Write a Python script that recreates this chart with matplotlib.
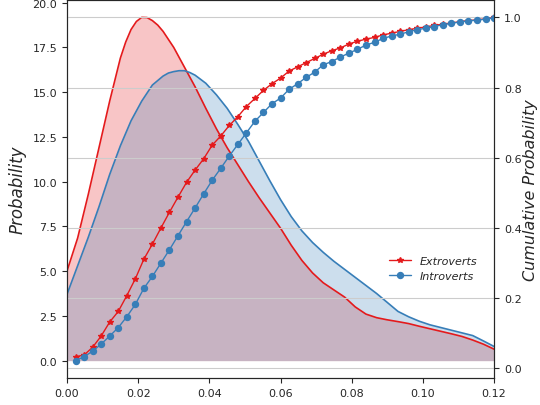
import numpy as np
import matplotlib.pyplot as plt
import seaborn as sns

sns.set_style("ticks")
plt.rcParams['font.family'] = ['DejaVu Sans']

red = '#e41a1c'
blue = '#377eb8'

# density curves
extro_x = [0.000, 0.003, 0.006, 0.009, 0.012, 0.015, 0.0165, 0.018, 0.0195, 0.021,
           0.0225, 0.024, 0.0255, 0.027, 0.030, 0.033, 0.036, 0.039, 0.042, 0.045,
           0.048, 0.051, 0.054, 0.057, 0.060, 0.063, 0.066, 0.069, 0.072, 0.075,
           0.078, 0.081, 0.084, 0.087, 0.090, 0.093, 0.096, 0.099, 0.102, 0.105,
           0.108, 0.111, 0.114, 0.117, 0.120]
extro_kde = [5.0, 6.85, 9.3, 11.9, 14.5, 16.9, 17.8, 18.5, 18.95, 19.18,
             19.17, 19.0, 18.75, 18.4, 17.5, 16.4, 15.3, 14.1, 12.95, 11.9,
             10.95, 10.0, 9.1, 8.25, 7.4, 6.45, 5.6, 4.9, 4.35, 3.95,
             3.55, 3.0, 2.6, 2.4, 2.28, 2.18, 2.07, 1.92, 1.78, 1.64,
             1.5, 1.35, 1.15, 0.92, 0.64]
intro_x = [0.000, 0.003, 0.006, 0.009, 0.012, 0.015, 0.018, 0.021, 0.024, 0.027,
           0.0285, 0.030, 0.0315, 0.033, 0.0345, 0.036, 0.039, 0.042, 0.045, 0.048,
           0.051, 0.054, 0.057, 0.060, 0.063, 0.066, 0.069, 0.072, 0.075, 0.078,
           0.081, 0.084, 0.087, 0.090, 0.093, 0.096, 0.099, 0.102, 0.105, 0.108,
           0.111, 0.114, 0.117, 0.120]
intro_kde = [3.7, 5.3, 6.9, 8.6, 10.4, 12.0, 13.4, 14.5, 15.4, 15.9,
             16.07, 16.15, 16.2, 16.2, 16.1, 15.95, 15.5, 14.85, 14.1, 13.2,
             12.25, 11.15, 10.05, 9.0, 8.05, 7.25, 6.6, 6.05, 5.55, 5.1,
             4.65, 4.2, 3.75, 3.25, 2.75, 2.45, 2.2, 2.0, 1.85, 1.7,
             1.55, 1.4, 1.1, 0.79]

# cumulative curves
cdf_x = np.arange(1, 51) * 0.0024
cdf_extro = [0.033, 0.038, 0.060, 0.092, 0.132, 0.162, 0.207, 0.255, 0.311, 0.354,
             0.400, 0.445, 0.488, 0.530, 0.565, 0.597, 0.636, 0.662, 0.692, 0.717,
             0.746, 0.769, 0.792, 0.811, 0.827, 0.847, 0.859, 0.871, 0.883, 0.895,
             0.905, 0.913, 0.924, 0.932, 0.938, 0.943, 0.950, 0.955, 0.960, 0.965,
             0.969, 0.973, 0.977, 0.981, 0.984, 0.988, 0.991, 0.993, 0.996, 1.000]
cdf_intro = [0.022, 0.033, 0.049, 0.069, 0.092, 0.116, 0.147, 0.182, 0.228, 0.262,
             0.300, 0.338, 0.378, 0.418, 0.457, 0.497, 0.536, 0.570, 0.605, 0.638,
             0.671, 0.704, 0.729, 0.754, 0.770, 0.795, 0.811, 0.829, 0.844, 0.865,
             0.874, 0.887, 0.898, 0.909, 0.921, 0.929, 0.940, 0.947, 0.952, 0.959,
             0.965, 0.969, 0.974, 0.979, 0.983, 0.987, 0.990, 0.992, 0.995, 0.999]

fig, ax = plt.subplots(figsize=(5.4, 4.06), dpi=100)
fig.subplots_adjust(left=0.124, right=0.915, top=0.997, bottom=0.067)

ax.plot(extro_x, extro_kde, color=red, lw=1.2)
ax.fill_between(extro_x, 0, extro_kde, color=red, alpha=0.25, lw=0)
ax.plot(intro_x, intro_kde, color=blue, lw=1.2)
ax.fill_between(intro_x, 0, intro_kde, color=blue, alpha=0.25, lw=0)
ax.set_xlim(0, 0.12)
ax.set_ylabel('Probability', fontsize=12, style='italic')
ax.tick_params(labelsize=8)

ax2 = ax.twinx()
ax2.plot(cdf_x, cdf_extro, color=red, marker='*', ms=3.8, lw=1, label='Extroverts')
ax2.plot(cdf_x, cdf_intro, color=blue, marker='o', ms=4.3, lw=1, label='Introverts')
ax2.grid(axis='y', color='#cccccc', lw=0.8)
ax2.set_ylabel('Cumulative Probability', fontsize=11.5, style='italic', labelpad=1)
ax2.tick_params(labelsize=8)
ax2.set_xlim(0, 0.12)

leg = ax2.legend(loc='center left', bbox_to_anchor=(0.73, 0.29), frameon=False,
                 prop={'style': 'italic', 'size': 8})

fig.savefig('out.png', dpi=100)
